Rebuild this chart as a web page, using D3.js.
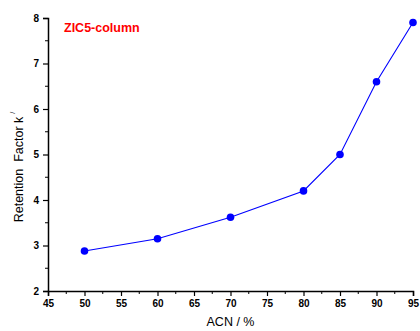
<!DOCTYPE html>
<html>
<head>
<meta charset="utf-8">
<script src="https://cdn.jsdelivr.net/npm/d3@7"></script>
<style>
  body { margin: 0; background: #fff; }
  svg { font-family: "Liberation Sans", Arial, sans-serif; }
</style>
</head>
<body>
<svg width="420" height="331"></svg>
<script>
// data
const acn = [50, 60, 70, 80, 85, 90, 95];
const kFactor = [2.88, 3.15, 3.62, 4.2, 5.0, 6.6, 7.9];
const xTicks = [45, 50, 55, 60, 65, 70, 75, 80, 85, 90, 95];
const yTicks = [2, 3, 4, 5, 6, 7, 8];

const svg = d3.select("svg");
const margin = { left: 48, right: 7, top: 18, bottom: 40 };
const width = 420, height = 331;

const x = d3.scaleLinear().domain([45, 95]).range([margin.left, width - margin.right]);
const y = d3.scaleLinear().domain([2, 8]).range([height - margin.bottom, margin.top]);

// minor ticks
const xMinor = d3.range(47.5, 95, 5);
const yMinor = d3.range(2.5, 8, 1);

const gx = svg.append("g").attr("transform", "translate(0," + y(2) + ")");
gx.call(d3.axisBottom(x).tickValues(xTicks).tickSize(5).tickPadding(4).tickFormat(d3.format("d")));
xMinor.forEach(v => {
    gx.append("line")
        .attr("x1", x(v)).attr("x2", x(v))
        .attr("y1", 0).attr("y2", 3)
        .attr("stroke", "#000").attr("stroke-width", 1);
});

const gy = svg.append("g").attr("transform", "translate(" + x(45) + ",0)");
gy.call(d3.axisLeft(y).tickValues(yTicks).tickSize(5).tickPadding(4).tickFormat(d3.format("d")));
yMinor.forEach(v => {
    gy.append("line")
        .attr("x1", 0).attr("x2", -3)
        .attr("y1", y(v)).attr("y2", y(v))
        .attr("stroke", "#000").attr("stroke-width", 1);
});

svg.selectAll(".domain").attr("stroke-width", 1.5).attr("stroke", "#000");
svg.selectAll(".tick line").attr("stroke-width", 1.2);
svg.selectAll(".tick text")
    .style("font-size", "10px")
    .style("font-weight", "bold")
    .style("font-family", "'Liberation Sans', Arial, sans-serif")
    .attr("fill", "#000");

// line + markers
const line = d3.line()
    .x((d, i) => x(acn[i]))
    .y(d => y(d));

svg.append("path")
    .datum(kFactor)
    .attr("d", line)
    .attr("fill", "none")
    .attr("stroke", "#0000ff")
    .attr("stroke-width", 1.1);

svg.selectAll("circle.pt")
    .data(kFactor)
    .enter()
    .append("circle")
    .attr("class", "pt")
    .attr("cx", (d, i) => x(acn[i]))
    .attr("cy", d => y(d))
    .attr("r", 3.8)
    .attr("fill", "#0000ff");

// labels
svg.append("text")
    .attr("x", (x(45) + x(95)) / 2)
    .attr("y", 326)
    .attr("text-anchor", "middle")
    .style("font-size", "12.5px")
    .text("ACN / %");

const yl = svg.append("text")
    .attr("transform", "translate(23,167) rotate(-90)")
    .attr("text-anchor", "middle")
    .style("font-size", "12.5px")
    .style("white-space", "pre")
    .text("Retention  Factor k");
yl.append("tspan")
    .attr("dx", 3)
    .attr("dy", -8)
    .style("font-size", "7px")
    .text("/");

svg.append("text")
    .attr("x", 64)
    .attr("y", 32)
    .attr("fill", "#ff0000")
    .style("font-size", "12.5px")
    .style("font-weight", "bold")
    .text("ZIC5-column");
</script>
</body>
</html>
